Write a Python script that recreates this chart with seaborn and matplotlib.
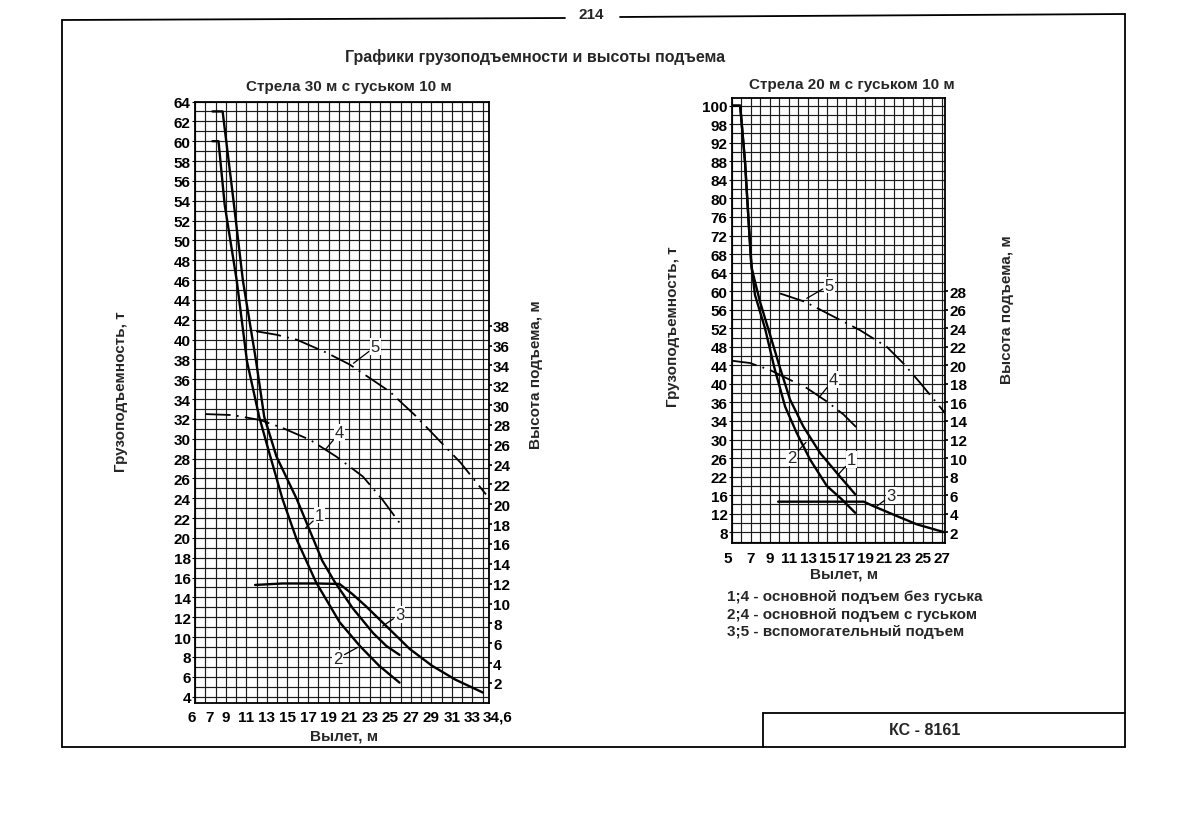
import seaborn as sns
import matplotlib.pyplot as plt
from matplotlib.lines import Line2D
from matplotlib.ticker import MultipleLocator
from matplotlib.transforms import ScaledTranslation

# -------------------------------
# boom 30 m + jib 10 m  (reach in m, load in t, hook height in m)
reach_30_c1 = [7.70, 8.69, 9.68, 10.67, 11.95, 12.74, 13.93, 15.91, 18.38, 19.57, 21.35, 23.33, 24.62, 25.90]
load_30_c1 = [63.0, 63.0, 54.6, 45.9, 37.8, 32.2, 28.2, 23.9, 17.7, 15.6, 12.9, 10.4, 9.1, 8.2]

reach_30_c2 = [7.70, 8.29, 8.89, 10.07, 11.06, 12.25, 13.14, 14.52, 15.91, 17.79, 20.07, 22.04, 23.92, 25.90]
load_30_c2 = [60.0, 60.0, 53.6, 45.9, 37.8, 32.2, 28.9, 23.9, 19.8, 15.5, 11.5, 9.1, 7.1, 5.4]

reach_30_c3 = [11.85, 14.52, 17.79, 20.07, 21.35, 22.64, 24.62, 26.89, 29.07, 31.34, 34.01]
load_30_c3 = [15.25, 15.4, 15.4, 15.35, 14.3, 13.1, 11.1, 8.8, 7.1, 5.7, 4.4]

reach_30_c4 = [7.01, 9.68, 12.35, 14.52, 17.20, 19.77, 22.34, 24.22, 26.00]
height_30_c4 = [29.1, 29.0, 28.5, 27.7, 26.5, 24.8, 22.8, 20.5, 18.0]

reach_30_c5 = [11.95, 13.93, 15.91, 18.78, 21.05, 24.91, 27.49, 31.84, 34.31]
height_30_c5 = [37.45, 37.1, 36.6, 35.3, 34.1, 31.4, 28.9, 24.2, 21.0]

x_ticks_30 = [6, 7, 9, 11, 13, 15, 17, 19, 21, 23, 25, 27, 29, 31, 33, 34.6]
x_labels_30 = ["6", "7", "9", "11", "13", "15", "17", "19", "21", "23", "25", "27", "29", "31", "33", "34,6"]
load_ticks_30 = list(range(4, 65, 2))
height_ticks_30 = list(range(2, 39, 2))

# -------------------------------
# boom 20 m + jib 10 m
reach_20_c1 = [5.0, 5.89, 6.40, 6.82, 7.10, 7.97, 9.02, 10.07, 11.12, 12.51, 14.26, 16.02, 17.94]
load_20_c1 = [100, 100, 87.8, 73.5, 64.9, 57.7, 50.6, 43.4, 36.6, 30.8, 25.1, 20.8, 16.2]

reach_20_c2 = [5.0, 5.89, 6.40, 6.82, 7.03, 7.44, 8.49, 9.47, 10.60, 11.82, 13.21, 14.97, 16.54, 17.94]
load_20_c2 = [100, 100, 87.8, 73.5, 66.3, 59.2, 52.0, 43.5, 35.1, 29.4, 23.7, 18.0, 15.1, 12.2]

reach_20_c3 = [9.87, 14.2, 18.84, 19.84, 22.31, 24.42, 27.2]
load_20_c3 = [14.6, 14.6, 14.6, 13.65, 11.5, 9.7, 8.06]

reach_20_c4 = [5.0, 6.92, 9.01, 10.78, 12.87, 14.97, 16.72, 18.03]
height_20_c4 = [20.5, 20.25, 19.5, 18.6, 17.55, 16.1, 14.7, 13.35]

reach_20_c5 = [10.07, 12.69, 15.41, 18.43, 21.25, 23.0, 24.76, 27.2, 27.4]
height_20_c5 = [27.75, 26.85, 25.4, 23.8, 22.0, 20.2, 18.1, 15.05, 14.8]

x_ticks_20 = [5, 7, 9, 11, 13, 15, 17, 19, 21, 23, 25, 27]
# printed labels of the load scale (as they stand in the original)
load_ticks_20 = list(range(100, 7, -4))
load_labels_20 = ["100", "98", "92", "88", "84", "80", "76", "72", "68", "64", "60", "56",
                  "52", "48", "44", "40", "36", "34", "30", "26", "22", "16", "12", "8"]
height_ticks_20 = list(range(2, 29, 2))

# curve numbers: (text, x on curve, y on curve, x of text, y of text)
marks_30 = [("5", 21.42, 37.6, 23.56, 39.3), ("4", 18.68, 28.9, 20.07, 30.6),
            ("1", 16.76, 21.0, 18.13, 22.3), ("3", 24.26, 11.1, 25.95, 12.3),
            ("2", 21.81, 8.95, 19.9, 7.85)]
marks_20 = [("5", 12.87, 58.45, 15.24, 61.3), ("4", 14.1, 36.95, 15.66, 40.9),
            ("1", 16.19, 20.5, 17.59, 23.7), ("2", 12.79, 27.4, 11.29, 24.05),
            ("3", 20.22, 13.65, 21.72, 15.95)]

legend_lines = ["1;4 - основной подъем без гуська",
                "2;4 - основной подъем с гуськом",
                "3;5 - вспомогательный подъем"]

# -------------------------------
sns.set_theme(style="white")
plt.rcParams["font.family"] = ["Liberation Sans", "DejaVu Sans"]
plt.rcParams["font.weight"] = "bold"
plt.rcParams["axes.labelweight"] = "bold"

fig = plt.figure(figsize=(11.83, 8.2), dpi=100)
ax_l = fig.add_axes([0.1648, 0.1415, 0.2485, 0.7335])
ax_r = fig.add_axes([0.6185, 0.3366, 0.1807, 0.5427])


def setup(ax, xlim, ylim, xminor, yminor):
    ax.set_xlim(*xlim)
    ax.set_ylim(*ylim)
    ax.xaxis.set_minor_locator(MultipleLocator(xminor))
    ax.yaxis.set_minor_locator(MultipleLocator(yminor))
    ax.grid(True, which="both", color="#1c1c1c", lw=0.85)
    ax.set_axisbelow(True)
    ax.tick_params(which="minor", length=0)
    ax.tick_params(which="major", length=2, width=0.8, pad=1, labelsize=11,
                   colors="black")
    for s in ax.spines.values():
        s.set_color("black")
        s.set_linewidth(1.3)


def curve(ax, x, y, dashed=False):
    if dashed:
        sns.lineplot(x=x, y=y, ax=ax, color="black", lw=1.3, sort=False,
                     estimator=None, legend=False, linestyle=(0, (14, 3.5, 1, 3.5)))
    else:
        sns.lineplot(x=x, y=y, ax=ax, color="black", lw=1.7, sort=False,
                     estimator=None, legend=False)


def numbers(top_ax, base_ax, marks):
    # drawn on the top (twin) axes, in the coordinates of the load axes
    for t, x, y, tx, ty in marks:
        top_ax.annotate(t, xy=(x, y), xytext=(tx, ty), xycoords=base_ax.transData,
                        textcoords=base_ax.transData, ha="center", va="center",
                        fontsize=12, fontweight="normal",
                        bbox=dict(boxstyle="square,pad=0.05", fc="white", ec="none"),
                        arrowprops=dict(arrowstyle="-", color="black", lw=0.9,
                                        shrinkA=1, shrinkB=0))


def shift_label(label, dx_px):
    label.set_transform(label.get_transform() +
                        ScaledTranslation(dx_px / 100, 0, fig.dpi_scale_trans))


# ---- left chart
setup(ax_l, (6, 34.6), (3.35, 64.0), 1, 1)
ax_l.set_xticks(x_ticks_30, x_labels_30)
ax_l.set_yticks(load_ticks_30)
ax_l.tick_params(axis="x", pad=3)
xl = ax_l.get_xticklabels()
shift_label(xl[0], -3)
shift_label(xl[1], 4)
shift_label(xl[-1], 9)
curve(ax_l, reach_30_c1, load_30_c1)
curve(ax_l, reach_30_c2, load_30_c2)
curve(ax_l, reach_30_c3, load_30_c3)

ax_l2 = ax_l.twinx()
ax_l2.set_ylim(-0.03, 60.62)
ax_l2.set_yticks(height_ticks_30)
ax_l2.tick_params(length=2, pad=1, labelsize=11, colors="black")
ax_l2.grid(False)
for s in ax_l2.spines.values():
    s.set_visible(False)
curve(ax_l2, reach_30_c4, height_30_c4, dashed=True)
curve(ax_l2, reach_30_c5, height_30_c5, dashed=True)
numbers(ax_l2, ax_l, marks_30)

ax_l.set_xlabel("Вылет, м", fontsize=11)
ax_l.xaxis.set_label_coords(0.507, -0.043)
ax_l.set_ylabel("Грузоподъемность, т", fontsize=11)
ax_l.yaxis.set_label_coords(-0.228, 0.519)
ax_l2.set_ylabel("Высота подъема, м", fontsize=11)
ax_l2.yaxis.set_label_coords(1.136, 0.547)
ax_l.text(0.524, 1.026, "Стрела 30 м с гуськом 10 м", transform=ax_l.transAxes,
          ha="center", va="center", fontsize=11)

# ---- right chart
setup(ax_r, (5, 27.4), (5.69, 101.66), 1, 2)
ax_r.set_xticks(x_ticks_20)
ax_r.set_yticks(load_ticks_20, load_labels_20)
ax_r.tick_params(axis="x", pad=4)
shift_label(ax_r.get_xticklabels()[0], -4)
curve(ax_r, reach_20_c1, load_20_c1)
curve(ax_r, reach_20_c2, load_20_c2)
curve(ax_r, reach_20_c3, load_20_c3)

ax_r2 = ax_r.twinx()
ax_r2.set_ylim(0.845, 48.83)
ax_r2.set_yticks(height_ticks_20)
ax_r2.tick_params(length=2, pad=1, labelsize=11, colors="black")
ax_r2.grid(False)
for s in ax_r2.spines.values():
    s.set_visible(False)
curve(ax_r2, reach_20_c4, height_20_c4, dashed=True)
curve(ax_r2, reach_20_c5, height_20_c5, dashed=True)
numbers(ax_r2, ax_r, marks_20)

ax_r.set_xlabel("Вылет, м", fontsize=11)
ax_r.xaxis.set_label_coords(0.525, -0.052)
ax_r.set_ylabel("Грузоподъемность, т", fontsize=11)
ax_r.yaxis.set_label_coords(-0.242, 0.488)
ax_r2.set_ylabel("Высота подъема, м", fontsize=11)
ax_r2.yaxis.set_label_coords(1.255, 0.526)
ax_r.text(0.563, 1.031, "Стрела 20 м с гуськом 10 м", transform=ax_r.transAxes,
          ha="center", va="center", fontsize=11)

for i, line in enumerate(legend_lines):
    fig.text(0.6146, 0.272 - i * 0.0215, line, ha="left", va="center", fontsize=11)

# -------------------------------
# page frame, header and title block
W, H = 1183, 820


def seg(x0, y0, x1, y1, lw=1.3):
    fig.add_artist(Line2D([x0 / W, x1 / W], [1 - y0 / H, 1 - y1 / H],
                          color="black", lw=lw))


seg(62, 21, 565, 19)
seg(620, 18, 1125, 15)
seg(62, 21, 62, 748)
seg(1125, 15, 1125, 748)
seg(62, 748, 1125, 748)
seg(763, 714, 1125, 714)
seg(763, 714, 763, 748)

fig.text(591 / W, 1 - 15 / H, "214", ha="center", va="center", fontsize=11)
fig.text(535 / W, 1 - 57 / H, "Графики грузоподъемности и высоты подъема",
         ha="center", va="center", fontsize=11.5)
fig.text(925 / W, 1 - 731 / H, "КС - 8161", ha="center", va="center", fontsize=11.5)

fig.savefig("out.png", dpi=100, facecolor="white")
plt.close(fig)
